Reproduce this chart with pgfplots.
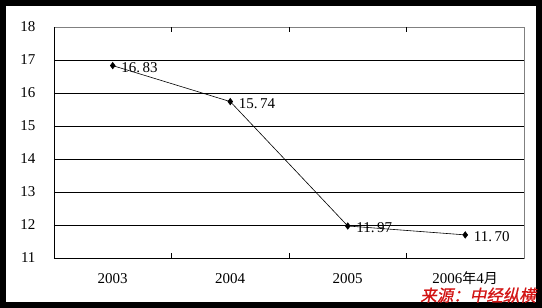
\documentclass[border=0pt]{standalone}
\usepackage{pgfplots}
\pgfplotsset{compat=1.18}
\usepackage{fontspec}
\setmainfont{Liberation Serif}
\newfontfamily\cjk{Noto Sans CJK SC}
\newfontfamily\cjkbold[FakeSlant=0.2,FakeBold=1]{Noto Sans CJK SC}
\definecolor{srcred}{RGB}{210,20,20}
\newcommand{\pd}{.\kern2.5pt}
\begin{document}
\begin{tikzpicture}[x=1pt,y=1pt]
\useasboundingbox (0,0) rectangle (542,308);
\begin{axis}[
  at={(54pt,50pt)}, anchor=south west,
  scale only axis, width=470pt, height=231pt,
  xmin=-0.5, xmax=3.5, ymin=11, ymax=18,
  ytick={11,12,...,18},
  xtick={0,1,2,3},
  xticklabels={2003,2004,2005,{2006{\cjk\fontsize{14}{16}\selectfont 年}4{\cjk\fontsize{14}{16}\selectfont 月}}},
  extra x ticks={0.5,1.5,2.5},
  extra x tick labels={},
  extra x tick style={major tick length=5pt, tick style={black, line width=0.8pt}},
  major tick length=0pt,
  ymajorgrids, grid style={black, line width=0.8pt},
  axis line style={gray, line width=0.8pt},
  tick label style={font=\fontsize{15}{17}\selectfont},
  /pgf/number format/assume math mode=true,
  yticklabel style={xshift=-15pt},
  xticklabel style={anchor=base, inner sep=0pt, yshift=-26pt},
  clip=false,
]
\addplot[black, line width=0.6pt, mark=diamond*, mark size=3.2pt,
  nodes near coords, point meta=explicit symbolic,
  nodes near coords style={anchor=west, xshift=5pt, yshift=-2pt, font=\fontsize{15}{17}\selectfont},
] coordinates {
  (0,16.83) [16\pd83]
  (1,15.74) [15\pd74]
  (2,11.97) [11\pd97]
  (3,11.70) [11\pd70]
};
\draw[black, line width=0.8pt] (rel axis cs:0,1) -- (rel axis cs:0,0) -- (rel axis cs:1,0);
\end{axis}
\draw[black, line width=6pt] (3,3) rectangle (539,305);
\node[anchor=south east, inner sep=0pt, text=srcred, font=\cjkbold\fontsize{16.5}{18}\selectfont] at (536,5) {来源：中经纵横};
\end{tikzpicture}
\end{document}
